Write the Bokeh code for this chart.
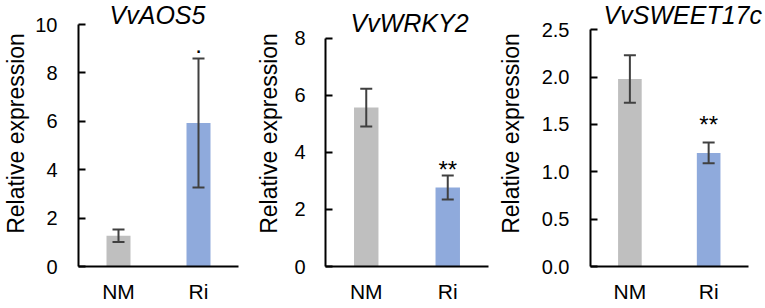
from bokeh.plotting import figure
from bokeh.models import (ColumnDataSource, Range1d, FixedTicker, Whisker,
                          TeeHead, Label, NumeralTickFormatter)
from bokeh.layouts import row
from bokeh.embed import file_html
from bokeh.resources import INLINE
from bokeh.core.properties import value

# ---- data ----
categories = ["NM", "Ri"]
titles = ["VvAOS5", "VvWRKY2", "VvSWEET17c"]
aos5_mean = [1.27, 5.93]
aos5_err = [0.26, 2.67]
wrky2_mean = [5.57, 2.77]
wrky2_err = [0.66, 0.42]
sweet_mean = [1.98, 1.20]
sweet_err = [0.25, 0.11]
aos5_sig = ["", "."]
wrky2_sig = ["", "**"]
sweet_sig = ["", "**"]
aos5_ticks = [0, 2, 4, 6, 8, 10]
wrky2_ticks = [0, 2, 4, 6, 8]
sweet_ticks = [0.0, 0.5, 1.0, 1.5, 2.0, 2.5]
y_label = "Relative expression"

bar_colors = ["#BFBFBF", "#8FAADC"]
FONT = "Liberation Sans"
ERR = "#404040"

H = 308
B_BOTTOM = 42
FRAME_H = H - B_BOTTOM


def panel(title, means, errs, sig, ticks, fmt, width, b_left, cat_w, extra_right,
          axis_top_px, title_dx, title_top_px, sig_dpx, tick_standoff, label_standoff):
    n = len(categories)
    xs = [i + 0.5 for i in range(n)]
    x_end = n * (cat_w + extra_right) / cat_w
    y_end = ticks[-1] * FRAME_H / (FRAME_H - axis_top_px)
    per_px = y_end / FRAME_H
    lower = [m - e for m, e in zip(means, errs)]
    upper = [m + e for m, e in zip(means, errs)]
    sig_y = [u + sig_dpx * per_px for u in upper]
    src = ColumnDataSource(dict(x=xs, cat=categories, top=means, lower=lower,
                                upper=upper, color=bar_colors, sig=sig, sig_y=sig_y))
    frame_w = cat_w + extra_right
    p = figure(x_range=Range1d(0, x_end), y_range=Range1d(ticks[0], y_end),
               width=width, height=H, output_backend="svg", toolbar_location=None,
               min_border_left=b_left, min_border_right=width - b_left - frame_w,
               min_border_top=0, min_border_bottom=B_BOTTOM, title=None)
    p.outline_line_color = None
    p.xgrid.grid_line_color = None
    p.ygrid.grid_line_color = None
    p.background_fill_color = "white"
    p.border_fill_color = "white"

    p.vbar(x="x", top="top", width=0.3, source=src, fill_color="color",
           line_color=None)
    w = Whisker(base="x", upper="upper", lower="lower", source=src,
                line_color=ERR, line_width=2, level="overlay",
                upper_head=TeeHead(size=12, line_color=ERR, line_width=2),
                lower_head=TeeHead(size=12, line_color=ERR, line_width=2))
    p.add_layout(w)

    p.text(x="x", y="sig_y", text="sig", source=src, text_align="center",
           text_baseline="alphabetic",
           text_font=value(FONT), text_font_size="24px", text_color="black")

    p.add_layout(Label(x=n / 2, y=y_end * (FRAME_H - title_top_px) / FRAME_H, text=title,
                       x_offset=title_dx, text_align="center", text_baseline="top",
                       text_font=FONT, text_font_style="italic",
                       text_font_size="25px", text_color="black"))

    yax = p.yaxis[0]
    yax.ticker = FixedTicker(ticks=ticks)
    yax.bounds = (ticks[0], ticks[-1])
    if fmt:
        yax.formatter = NumeralTickFormatter(format=fmt)
    yax.axis_label = y_label
    yax.axis_label_text_font = FONT
    yax.axis_label_text_font_style = "normal"
    yax.axis_label_text_font_size = "23px"
    yax.axis_label_text_color = "black"
    yax.axis_label_standoff = label_standoff
    yax.major_label_text_font = FONT
    yax.major_label_text_font_size = "20px"
    yax.major_label_text_color = "black"
    yax.major_label_standoff = tick_standoff
    yax.axis_line_width = 2
    yax.axis_line_color = "black"
    yax.major_tick_in = 7
    yax.major_tick_out = 0
    yax.major_tick_line_width = 2
    yax.major_tick_line_color = "black"
    yax.minor_tick_line_color = None

    xax = p.xaxis[0]
    xax.ticker = FixedTicker(ticks=xs)
    xax.major_label_overrides = {x: c for x, c in zip(xs, categories)}
    xax.bounds = (0, n)
    xax.major_label_text_font = FONT
    xax.major_label_text_font_size = "21px"
    xax.major_label_text_color = "black"
    xax.major_label_standoff = 13
    xax.axis_line_width = 2
    xax.axis_line_color = "black"
    xax.major_tick_in = 0
    xax.major_tick_out = 0
    xax.major_tick_line_color = None
    xax.minor_tick_line_color = None
    return p


p1 = panel(titles[0], aos5_mean, aos5_err, aos5_sig, aos5_ticks, None,
           253, 73, 165, 0, 24, -1, 0.5, 14, 21, 3)
p2 = panel(titles[1], wrky2_mean, wrky2_err, wrky2_sig, wrky2_ticks, None,
           241, 72, 163, 0, 37.7, 2.5, 8.6, 5.5, 20, 9)
p3 = panel(titles[2], sweet_mean, sweet_err, sweet_sig, sweet_ticks, "0.0",
           269, 90, 163, 16, 29.3, 13.5, 0.5, 18, 21, 15)

layout = row(p1, p2, p3)
open("out.html", "w").write(file_html(layout, INLINE))
